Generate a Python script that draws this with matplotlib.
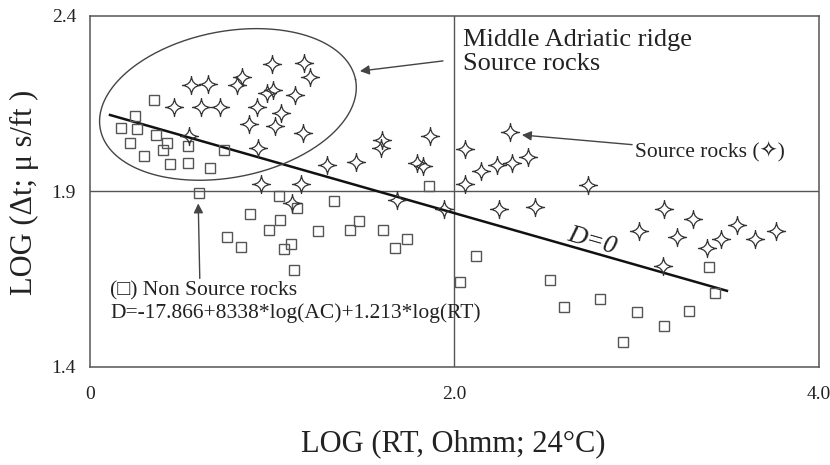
import numpy as np
import matplotlib.pyplot as plt
from matplotlib.path import Path

plt.rcParams['font.family'] = ['Liberation Serif', 'DejaVu Sans']

# source rock samples (stars)
star_x = [0.998, 1.176, 1.209, 0.835, 0.805, 0.555, 0.645, 0.970, 1.003, 1.126,
          0.459, 0.607, 0.714, 0.915, 1.049, 0.870, 1.016, 1.168, 0.544, 0.923,
          1.299, 1.459, 1.604, 1.599, 1.794, 1.830, 1.864, 0.940, 1.156, 1.685,
          1.108, 2.305, 2.056, 2.146, 2.233, 2.317, 2.403, 2.056, 2.732, 1.941,
          2.243, 2.443, 3.150, 3.310, 3.013, 3.220, 3.385, 3.462, 3.553, 3.651,
          3.764, 3.145]
star_y = [2.263, 2.266, 2.225, 2.226, 2.202, 2.203, 2.206, 2.181, 2.188, 2.176,
          2.140, 2.140, 2.140, 2.142, 2.125, 2.091, 2.087, 2.067, 2.058, 2.024,
          1.975, 1.985, 2.047, 2.023, 1.980, 1.974, 2.057, 1.921, 1.921, 1.876,
          1.867, 2.070, 2.022, 1.958, 1.975, 1.980, 1.997, 1.921, 1.919, 1.849,
          1.851, 1.856, 1.849, 1.823, 1.787, 1.769, 1.738, 1.766, 1.805, 1.765,
          1.786, 1.688]

# non source rock samples (squares)
square_x = [0.354, 0.245, 0.169, 0.258, 0.364, 0.425, 0.398, 0.218, 0.536, 0.735,
            0.295, 0.441, 0.536, 0.658, 0.597, 1.035, 1.136, 1.337, 0.879, 1.042,
            0.980, 1.249, 1.425, 1.478, 1.610, 0.751, 0.828, 1.101, 1.062, 1.122,
            1.740, 1.672, 1.859, 2.120, 2.033, 2.522, 2.603, 2.798, 3.004, 2.926,
            3.150, 3.288, 3.396, 3.427]
square_y = [2.162, 2.116, 2.080, 2.078, 2.061, 2.037, 2.018, 2.037, 2.030, 2.018,
            2.001, 1.978, 1.982, 1.968, 1.897, 1.886, 1.852, 1.874, 1.836, 1.820,
            1.789, 1.786, 1.789, 1.815, 1.789, 1.769, 1.741, 1.749, 1.735, 1.676,
            1.765, 1.738, 1.916, 1.716, 1.641, 1.649, 1.572, 1.593, 1.556, 1.472,
            1.517, 1.560, 1.684, 1.611]

# discriminant line D=0
d0_x = [0.110, 3.495]
d0_y = [2.118, 1.617]

x_ticks = [0, 2, 4]
x_ticklabels = ['0', '2.0', '4.0']
y_ticks = [1.4, 1.9, 2.4]
y_ticklabels = ['1.4', '1.9', '2.4']

# four-point star marker with concave sides
c = 0.06
star_verts = [(0, 1), (c, c), (1, 0), (c, -c), (0, -1), (-c, -c), (-1, 0), (-c, c), (0, 1)]
star_codes = [Path.MOVETO] + [Path.CURVE3] * 8
star_marker = Path(star_verts, star_codes)

fig = plt.figure(figsize=(8.3, 4.65), dpi=100)
ax = fig.add_axes([0.1084, 0.2108, 0.8783, 0.7548])

ax.set_xlim(0, 4)
ax.set_ylim(1.4, 2.4)

ax.axvline(2.0, color='#555555', lw=1.0, zorder=1)
ax.axhline(1.9, color='#555555', lw=1.0, zorder=1)

ax.plot(d0_x, d0_y, color='#111111', lw=1.8, zorder=2)

ax.plot(square_x, square_y, linestyle='none', marker='s', ms=7.4,
        mfc='none', mec='#555555', mew=1.0, zorder=3)
ax.plot(star_x, star_y, linestyle='none', marker=star_marker, ms=13,
        mfc='none', mec='#333333', mew=0.9, zorder=3)

# ellipse round the Middle Adriatic ridge cluster, drawn in pixel proportions
px_x = 729 / 4.0
px_y = 351 / 1.0
a, b, theta = 130.0, 73.0, np.radians(11)
t = np.linspace(0, 2 * np.pi, 300)
ex = 0.757 + (a * np.cos(t) * np.cos(theta) - b * np.sin(t) * np.sin(theta)) / px_x
ey = 2.148 + (a * np.cos(t) * np.sin(theta) + b * np.sin(t) * np.cos(theta)) / px_y
ax.plot(ex, ey, color='#444444', lw=1.0, zorder=2)

arrow = dict(arrowstyle='-|>', color='#444444', lw=1.0, mutation_scale=14,
             shrinkA=0, shrinkB=0)

ax.text(2.047, 2.362, 'Middle Adriatic ridge\nSource rocks', fontsize=19,
        ha='left', va='top', linespacing=1.1, color='#222222')
ax.annotate('', xy=(1.481, 2.243), xytext=(1.937, 2.272), arrowprops=arrow)

ax.annotate('Source rocks (\u2727)', xy=(2.370, 2.061), xytext=(2.99, 2.014),
            fontsize=15.5, ha='left', va='center', color='#222222',
            arrowprops=arrow)

ax.annotate('(\u25a1) Non Source rocks', xy=(0.594, 1.866), xytext=(0.110, 1.617),
            fontsize=15.5, ha='left', va='center', color='#222222',
            arrowprops=dict(arrow, relpos=(0.48, 1.0)))

ax.text(0.110, 1.552, 'D=-17.866+8338*log(AC)+1.213*log(RT)', fontsize=15.5,
        ha='left', va='center', color='#222222')

ax.text(2.754, 1.760, 'D=0', fontsize=19, style='italic', rotation=-16,
        ha='center', va='center', rotation_mode='anchor', color='#222222')

ax.set_xticks(x_ticks)
ax.set_xticklabels(x_ticklabels)
ax.set_yticks(y_ticks)
ax.set_yticklabels(y_ticklabels)
ax.tick_params(axis='both', length=0, labelsize=14, colors='#222222')
ax.tick_params(axis='x', pad=14)
ax.tick_params(axis='y', pad=10)

for s in ax.spines.values():
    s.set_color('#555555')
    s.set_linewidth(1.1)

ax.set_xlabel('LOG (RT, Ohmm; 24\u00b0C)', fontsize=22, color='#222222', va='center')
ax.xaxis.set_label_coords(0.498, -0.219)
ax.set_ylabel('LOG (\u0394t; \u03bc s/ft )', fontsize=22, color='#222222', va='center')
ax.yaxis.set_label_coords(-0.0905, 0.4986)

fig.savefig('out.png', dpi=100)
